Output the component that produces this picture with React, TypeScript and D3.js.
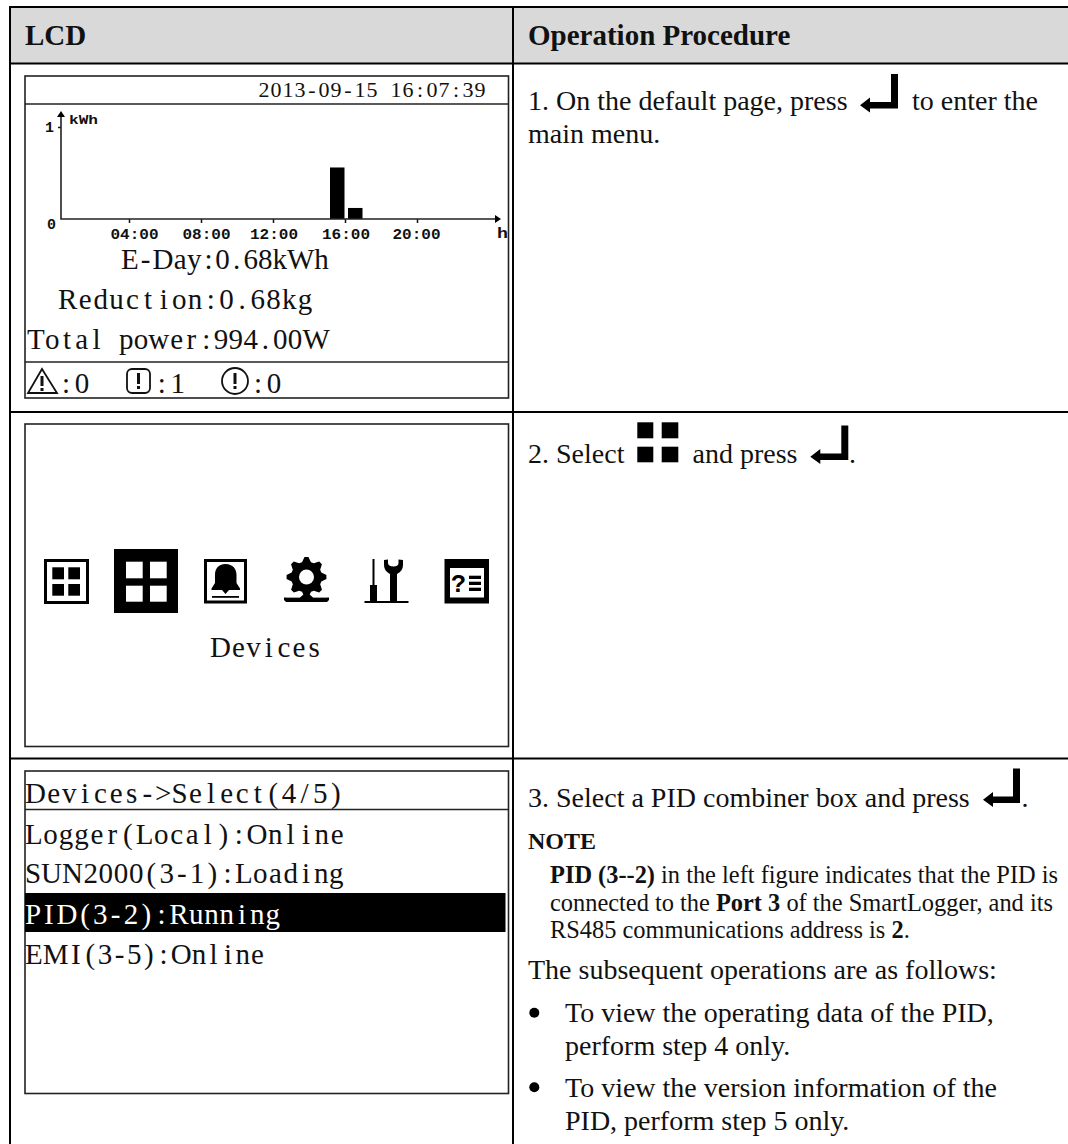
import React, { useEffect, useRef } from 'react';
import * as d3 from 'd3';

// daily yield bars on the LCD
const barHours = [16, 17];
const barValues = [0.56, 0.12];
const tickHours = [4, 8, 12, 16, 20];
const tickLabels = ['04:00', '08:00', '12:00', '16:00', '20:00'];
const tickNudge = [5, 5, 0.5, 0.5, -1];

const lcdClock = '2013-09-15 16:07:39';
const lcdSummary = ['E-Day:0.68kWh', 'Reduction:0.68kg', 'Total power:994.00W'];
const alarmCounts = [':0', ':1', ':0'];
const deviceLines = ['Logger(Local):Online', 'SUN2000(3-1):Loading', 'PID(3-2):Running', 'EMI(3-5):Online'];
const gearRadii = [20, 20, 15.5, 15.5, 20, 20, 15.5, 15.5, 20, 20, 15.5, 15.5, 20, 20, 15.5, 15.5, 20, 20, 15.5, 15.5, 20, 20, 15.5, 15.5, 20, 20, 15.5, 15.5, 20, 20, 15.5, 15.5];

const SERIF = '"Liberation Serif", serif';
const MONO = '"Liberation Mono", monospace';
const INK = '#111';

const measure = document.createElement('canvas').getContext('2d') as CanvasRenderingContext2D;

// the LCD font is fixed pitch: narrow glyphs sit in even cells, wide ones push their neighbours a bit
const cellPositions = (text: string, x: number, cw: number, size: number) => {
  measure.font = `${size}px ${SERIF}`;
  const widths = text.split('').map((ch) => measure.measureText(ch).width);
  let level = cw;
  while (level > 0 && d3.sum(widths, (w) => Math.max(w, level)) > text.length * cw) level -= 0.1;
  let cursor = x;
  return widths
    .map((w) => {
      const slot = Math.max(w, level);
      const px = cursor + (slot - w) / 2;
      cursor += slot;
      return px.toFixed(1);
    })
    .join(' ');
};

const Lcd = ({ text, x, y, cw = 16, size = 29, fill = INK }: any) => (
  <text x={cellPositions(text, x, cw, size)} y={y} fontFamily={SERIF} fontSize={size} fill={fill} xmlSpace="preserve">
    {text}
  </text>
);

const Body = ({ x, y, size = 28, weight, children }: any) => (
  <text x={x} y={y} fontFamily={SERIF} fontSize={size} fontWeight={weight} fill="#111" xmlSpace="preserve">
    {children}
  </text>
);

const EnterKey = ({ right, bottom, width }: any) => {
  const p = d3.path();
  const tip = right - width;
  p.moveTo(right, bottom);
  p.lineTo(tip + 10, bottom);
  p.lineTo(tip + 10, bottom + 4);
  p.lineTo(tip, bottom - 3.2);
  p.lineTo(tip + 10, bottom - 11);
  p.lineTo(tip + 10, bottom - 6.5);
  p.lineTo(right - 7, bottom - 6.5);
  p.lineTo(right - 7, bottom - 34.5);
  p.lineTo(right, bottom - 34.5);
  p.closePath();
  return <path d={p.toString()} fill="#000" />;
};

const GridIcon = ({ x, y, w, h, a, b, c, d, border, fill, bg }: any) => (
  <g>
    <rect x={x} y={y} width={w} height={h} fill={bg} stroke={border ? '#000' : 'none'} strokeWidth={border} />
    {[a, b].map((sx: number, i: number) =>
      [c, d].map((sy: number, j: number) => (
        <rect key={`${i}-${j}`} x={sx[0]} y={sy[0]} width={sx[1] - sx[0]} height={sy[1] - sy[0]} fill={fill} />
      ))
    )}
  </g>
);

const YieldChart = () => {
  const ref = useRef<SVGGElement>(null);

  useEffect(() => {
    if (!ref.current) return;
    const g = d3.select(ref.current);
    g.selectAll('*').remove();

    const x = d3.scaleLinear().domain([0, 24]).range([57, 489]);
    const y = d3.scaleLinear().domain([0, 1]).range([219, 127]);

    g.selectAll('rect.bar')
      .data(barValues)
      .join('rect')
      .attr('class', 'bar')
      .attr('x', (_, i) => x(barHours[i]) - 15)
      .attr('y', (d) => y(d))
      .attr('width', 14.5)
      .attr('height', (d) => y(0) - y(d))
      .attr('fill', '#000');

    const xAxis = g
      .append('g')
      .attr('transform', `translate(0,${y(0)})`)
      .call(
        d3
          .axisBottom(x)
          .tickValues(tickHours)
          .tickFormat((_, i) => tickLabels[i])
          .tickSize(4)
          .tickSizeOuter(0)
          .tickPadding(5)
      );
    xAxis.select('.domain').remove();
    xAxis.selectAll('line').attr('stroke', '#111').attr('stroke-width', 1.5);
    xAxis
      .selectAll('text')
      .attr('font-family', MONO)
      .attr('font-weight', 'bold')
      .attr('font-size', 15)
      .attr('fill', INK)
      .attr('dx', (_, i) => tickNudge[i])
      .attr('textLength', 48)
      .attr('lengthAdjust', 'spacingAndGlyphs');

    const yAxis = g
      .append('g')
      .attr('transform', 'translate(61,0)')
      .call(d3.axisLeft(y).tickValues([1]).tickFormat(() => '1').tickSize(3).tickSizeOuter(0).tickPadding(4));
    yAxis.select('.domain').remove();
    yAxis.selectAll('line').attr('stroke', '#111').attr('stroke-width', 1.5);
    yAxis
      .selectAll('text')
      .attr('font-family', MONO)
      .attr('font-weight', 'bold')
      .attr('font-size', 15)
      .attr('fill', INK);

    // axis lines with their arrow heads
    g.append('path').attr('d', `M61,113V${y(0)}H498`).attr('fill', 'none').attr('stroke', '#222').attr('stroke-width', 1.6);
    g.append('path').attr('d', 'M61,111l-4,6h8z').attr('fill', '#000');
    g.append('path').attr('d', `M501,${y(0)}l-6,-4v8z`).attr('fill', '#000');

    const small = [
      { t: '0', x: 47, y: 229, w: 9, s: 14 },
      { t: 'kWh', x: 69, y: 124, w: 29, s: 13 },
      { t: 'h', x: 497, y: 238, w: 11, s: 15 },
    ];
    g.selectAll('text.small')
      .data(small)
      .join('text')
      .attr('class', 'small')
      .attr('x', (d) => d.x)
      .attr('y', (d) => d.y)
      .attr('font-family', MONO)
      .attr('font-weight', 'bold')
      .attr('font-size', (d) => d.s)
      .attr('textLength', (d) => d.w)
      .attr('lengthAdjust', 'spacingAndGlyphs')
      .attr('fill', INK)
      .text((d) => d.t);
  }, []);

  return <g ref={ref} />;
};

const App = () => {
  const gearLine = d3
    .lineRadial<number>()
    .angle((_, i) => (i * 2 * Math.PI) / gearRadii.length - 0.1)
    .radius((d) => d)
    .curve(d3.curveLinearClosed);

  return (
    <svg width={1068} height={1144} viewBox="0 0 1068 1144" style={{ position: 'absolute', left: 0, top: 0, background: '#fff' }}>
      {/* table */}
      <rect x={10} y={7} width={1058} height={56} fill="#d9d9d9" />
      <g stroke="#000" strokeWidth={2}>
        <line x1={9} y1={7} x2={1068} y2={7} />
        <line x1={9} y1={63.5} x2={1068} y2={63.5} />
        <line x1={9} y1={412} x2={1068} y2={412} />
        <line x1={9} y1={758.5} x2={1068} y2={758.5} />
        <line x1={10} y1={6} x2={10} y2={1144} />
        <line x1={513} y1={6} x2={513} y2={1144} />
      </g>
      <Body x={25} y={45} size={29} weight="bold">LCD</Body>
      <Body x={528} y={45} size={29} weight="bold">Operation Procedure</Body>

      {/* LCD 1 */}
      <g fill="none" stroke="#222" strokeWidth={1.6}>
        <rect x={25} y={76} width={483.5} height={322} />
        <line x1={25} y1={104} x2={508.5} y2={104} />
        <line x1={25} y1={362} x2={508.5} y2={362} />
      </g>
      <Lcd text={lcdClock} x={258} y={97} cw={12} size={22} />
      <YieldChart />
      <Lcd text={lcdSummary[0]} x={121} y={269} />
      <Lcd text={lcdSummary[1]} x={58} y={309} />
      <Lcd text={lcdSummary[2]} x={27} y={349} />
      <g fill="none" stroke="#111" strokeWidth={1.8}>
        <path d="M42,369L28,393H57Z" />
        <rect x={127} y={369} width={23} height={24} rx={5} />
        <circle cx={235} cy={381} r={13} />
      </g>
      <g stroke="#111" strokeWidth={3}>
        <path d="M42,376V386M42,388V391" />
        <path d="M138.500,373V384M138.500,386V389" />
        <path d="M235,373V384M235,386V389" />
      </g>
      <Lcd text={alarmCounts[0]} x={58} y={393} />
      <Lcd text={alarmCounts[1]} x={153.7} y={393} />
      <Lcd text={alarmCounts[2]} x={250} y={393} />

      {/* LCD 2 */}
      <rect x={25} y={424} width={483.5} height={322.5} fill="none" stroke="#222" strokeWidth={1.6} />
      <GridIcon x={45.5} y={560.500} w={42} h={42} border={3} bg="#fff" fill="#000" a={[52.3, 64]} b={[68.3, 80]} c={[567.3, 579.3]} d={[584, 595.7]} />
      <GridIcon x={114} y={549} w={64} h={64} border={0} bg="#000" fill="#fff" a={[126, 142.7]} b={[150, 166.7]} c={[561.7, 578.3]} d={[585.7, 601.7]} />
      {/* bell */}
      <rect x={205.5} y={560.5} width={40} height={41.5} fill="none" stroke="#000" strokeWidth={3} />
      <path d="M225.500,564C218,564 215,569 215,575V583L211.500,588.500V590H222L225.500,594L229,590H240V588.500L236.500,583V575C236.500,569 233,564 225.500,564Z" fill="#000" />
      <rect x={212} y={596} width={27} height={1.8} fill="#000" />
      {/* gear */}
      <path d={gearLine(gearRadii) as string} transform="translate(306.5,577)" fill="#000" />
      <circle cx={306.5} cy={577} r={7.5} fill="#fff" />
      <path d="M284,597.500H300L304,594H309L313,597.500H329V600L327,602H286L284,600Z" fill="#000" />
      <path d="M286,596.500H300M313,596.500H327" stroke="#fff" strokeWidth={1.5} />
      {/* tools */}
      <rect x={372.5} y={559} width={2} height={27} fill="#000" />
      <rect x={370} y={585} width={7} height={17} fill="#000" />
      <rect x={364.5} y={601} width={44} height={2} fill="#000" />
      <path d="M390,602V574C386,572 384,569 384,565V560L388,559.500V563C388,565 390,566.500 393.500,566.500C397,566.500 398.500,565 398.500,563V559.500L403,560V565C403,569 401,572 397,574V602Z" fill="#000" />
      {/* help */}
      <rect x={444.5} y={559} width={44.5} height={44.5} fill="#000" />
      <rect x={450} y={568} width={34} height={29.500} fill="#fff" />
      <text x={451} y={592} fontFamily={MONO} fontWeight="bold" fontSize={25} fill="#000">?</text>
      <rect x={469} y={575.700} width={12} height={3.300} fill="#000" />
      <rect x={469} y={581.700} width={12} height={3.300} fill="#000" />
      <rect x={469} y={587.700} width={12} height={3.300} fill="#000" />
      <Lcd text="Devices" x={210} y={657} />

      {/* LCD 3 */}
      <g fill="none" stroke="#222" strokeWidth={1.6}>
        <rect x={25} y={771} width={483.5} height={322.5} />
        <line x1={25} y1={809.5} x2={508.5} y2={809.5} />
      </g>
      <rect x={25} y={893} width={480.5} height={39} fill="#000" />
      <Lcd text="Devices->Select(4/5)" x={25} y={803} />
      <Lcd text={deviceLines[0]} x={25} y={844} />
      <Lcd text={deviceLines[1]} x={25} y={883} />
      <Lcd text={deviceLines[2]} x={25} y={924} fill="#fff" />
      <Lcd text={deviceLines[3]} x={25} y={964} />

      {/* procedure text, row 1 */}
      <Body x={528} y={110}>1. On the default page, press</Body>
      <EnterKey right={898} bottom={108.5} width={38} />
      <Body x={912} y={110}>to enter the</Body>
      <Body x={528} y={143}>main menu.</Body>

      {/* row 2 */}
      <Body x={528} y={463}>2. Select</Body>
      <GridIcon x={637} y={422} w={41} h={40} border={0} bg="none" fill="#000" a={[637.3, 653.3]} b={[661.7, 678.3]} c={[422.3, 438.3]} d={[446.7, 462.3]} />
      <Body x={692.5} y={463}>and press</Body>
      <EnterKey right={848.3} bottom={460} width={38} />
      <Body x={849} y={463}>.</Body>

      {/* row 3 */}
      <Body x={528} y={806.7}>3. Select a PID combiner box and press</Body>
      <EnterKey right={1020} bottom={803} width={37} />
      <Body x={1021.5} y={806.7}>.</Body>
      <Body x={528} y={849.3} size={24} weight="bold">NOTE</Body>
      <Body x={550} y={883.3} size={24.4}>
        <tspan fontWeight="bold">PID (3--2)</tspan> in the left figure indicates that the PID is
      </Body>
      <Body x={550} y={910.7} size={24.4}>
        connected to the <tspan fontWeight="bold">Port 3</tspan> of the SmartLogger, and its
      </Body>
      <Body x={550} y={938.3} size={24.4}>
        RS485 communications address is <tspan fontWeight="bold">2</tspan>.
      </Body>
      <Body x={528} y={979.3}>The subsequent operations are as follows:</Body>
      <circle cx={534.3} cy={1012.7} r={5} fill="#000" />
      <Body x={565} y={1022.3}>To view the operating data of the PID,</Body>
      <Body x={565} y={1055}>perform step 4 only.</Body>
      <circle cx={534.3} cy={1087.3} r={5} fill="#000" />
      <Body x={565} y={1097.3}>To view the version information of the</Body>
      <Body x={565} y={1130}>PID, perform step 5 only.</Body>
    </svg>
  );
};

export default App;
